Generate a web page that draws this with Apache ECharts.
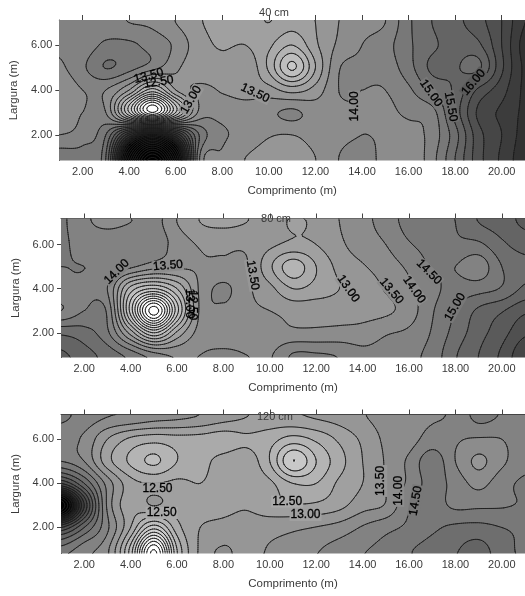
<!DOCTYPE html>
<html><head><meta charset="utf-8">
<style>html,body{margin:0;padding:0;background:#fff}#c{width:525px;height:596px;filter:blur(0.45px)}</style>
<script src="https://cdn.jsdelivr.net/npm/echarts@6/dist/echarts.min.js"></script>
</head><body><div id="c"></div>
<script>
// Length values along x (m): 1..21; rows are width y = 7 .. 1 (m)
const cm40_y7=[14.2,14.2,14.2,14.0,13.9,13.5,13.05,12.85,12.8,13.0,12.7,13.0,13.5,13.8,14.0,14.9,15.5,15.85,16.3,17.0,18.0];
const cm40_y6=[14.1,14.2,14.6,14.6,14.3,13.9,13.2,12.95,13.0,12.6,12.0,12.9,13.6,14.0,14.3,14.9,15.4,15.7,15.9,17.0,18.2];
const cm40_y5=[13.9,14.4,15.02,14.7,14.2,13.6,13.2,13.2,13.4,12.4,10.9,12.5,13.95,14.1,14.2,14.8,15.6,15.55,15.4,16.9,18.1];
const cm40_y4=[13.6,14.0,14.0,13.0,11.3,13.0,13.6,13.45,13.3,13.2,12.8,13.2,14.0,14.0,14.0,14.4,15.1,15.6,16.6,17.3,18.1];
const cm40_y3=[13.8,14.0,14.0,11.0,8.0,11.0,13.6,13.8,13.8,13.9,14.1,13.8,13.9,14.0,13.9,14.1,14.3,15.7,17.1,17.6,18.1];
const cm40_y2=[14.0,14.2,15.0,18.0,20.0,18.0,15.0,14.1,13.9,13.55,13.5,13.7,13.9,14.0,13.95,13.8,14.2,15.3,16.8,17.5,18.2];
const cm40_y1=[14.8,14.8,15.5,22,26,22,14.6,13.9,13.5,13.2,13.2,13.5,14.0,14.1,13.9,13.6,14.3,15.5,16.8,17.6,18.3];

const cm80_y7=[14.6,14.1,13.9,14.0,14.2,13.5,13.0,12.9,13.0,13.2,12.95,13.1,13.5,13.85,14.2,14.7,14.85,15.0,15.5,15.75,16.1];
const cm80_y6=[14.6,14.3,14.3,14.4,14.3,13.8,13.45,13.4,13.4,13.1,12.9,13.0,13.4,13.75,14.0,14.45,14.7,14.9,14.9,15.4,15.7];
const cm80_y5=[14.5,14.5,14.4,14.1,13.7,13.6,13.55,13.6,13.55,12.6,11.7,12.5,13.15,13.45,13.75,14.1,14.55,14.5,14.2,15.0,15.35];
const cm80_y4=[14.4,14.4,14.0,11.8,11.0,12.0,13.6,14.1,13.6,13.15,12.5,12.7,13.0,13.2,13.55,13.9,14.35,14.7,14.8,15.05,15.6];
const cm80_y3=[14.0,14.5,14.4,10.8,7.2,10.8,13.6,13.9,13.6,13.5,13.35,13.35,13.3,13.3,13.4,13.75,14.45,15.0,15.6,15.95,16.4];
const cm80_y2=[15.4,15.2,14.6,12.8,11.0,12.6,13.7,13.7,13.7,13.65,13.6,13.6,13.65,13.7,13.95,14.1,14.55,15.2,15.8,16.3,16.9];
const cm80_y1=[16.1,15.7,15.3,14.8,14.2,13.9,14.0,14.1,14.0,13.95,14.55,14.55,14.45,14.15,14.2,14.35,14.7,15.45,16.0,16.6,17.4];

const cm120_y7=[14.6,14.3,14.0,13.9,13.7,13.6,13.45,13.2,13.0,12.85,12.9,13.05,13.2,13.45,13.7,13.85,13.95,14.1,14.65,14.45,14.4];
const cm120_y6=[14.2,13.9,13.0,12.4,12.2,12.3,12.3,12.2,12.4,12.2,11.8,12.1,12.6,13.1,13.6,13.8,14.2,14.05,13.95,14.0,14.3];
const cm120_y5=[14.5,14.0,12.7,11.9,11.4,12.0,12.3,12.7,12.8,12.0,10.5,11.5,12.3,13.0,13.55,14.1,14.8,14.0,13.4,13.9,14.3];
const cm120_y4=[17,15.5,13.8,12.7,12.5,12.6,12.5,12.75,12.85,12.6,12.0,12.0,12.6,13.0,13.55,14.1,14.7,14.3,13.85,14.3,14.6];
const cm120_y3=[22,17.5,13.9,12.7,13.02,12.7,12.7,12.85,12.95,12.7,12.55,12.6,12.85,13.3,13.55,14.45,14.7,14.4,14.4,14.45,14.55];
const cm120_y2=[17,15.5,14.1,12.5,10.7,12.3,13.0,13.15,13.2,13.3,13.4,13.52,13.7,14.05,14.35,14.6,14.9,15.1,15.15,15.0,14.9];
const cm120_y1=[14.8,14.2,13.6,11.3,7.5,11.5,13.1,13.55,13.3,13.55,13.7,13.95,14.2,14.45,14.65,14.95,15.2,15.45,15.7,15.2,14.9];

// contour labels: [x, y, text, rotation in degrees, plain]
const labels40=[[4.84,4.63,'13.50',15,1],[5.27,4.35,'12.50',10,1],[6.66,3.56,'13.00',60],[9.41,3.86,'13.50',-25],[13.67,3.27,'14.00',90],[16.96,3.86,'15.00',-55],[17.81,3.26,'15.50',-80],[18.79,4.34,'16.00',50]];
const labels80=[[3.4,4.76,'14.00',45],[5.61,5.04,'13.50',5],[6.51,3.33,'13.00',-90,1],[6.64,3.25,'12.50',-90,1],[9.26,4.61,'13.50',-80],[13.38,4.0,'13.00',-55],[15.24,3.89,'13.50',-50],[16.22,3.95,'14.00',-55],[16.86,4.75,'14.50',-45],[17.99,3.17,'15.00',60]];
const labels120=[[5.16,3.78,'12.50',0],[5.34,2.65,'12.50',0],[10.75,3.18,'12.50',0],[11.54,2.56,'13.00',0],[14.8,4.11,'13.50',90],[15.54,3.66,'14.00',90],[16.29,3.21,'14.50',80]];

const panelTitles=['40 cm','80 cm','120 cm'];
const xTicks=[2,4,6,8,10,12,14,16,18,20];
const yTicks=[2,4,6];
const xAxisName='Comprimento (m)', yAxisName='Largura (m)';

const rows=[
 [cm40_y1,cm40_y2,cm40_y3,cm40_y4,cm40_y5,cm40_y6,cm40_y7],
 [cm80_y1,cm80_y2,cm80_y3,cm80_y4,cm80_y5,cm80_y6,cm80_y7],
 [cm120_y1,cm120_y2,cm120_y3,cm120_y4,cm120_y5,cm120_y6,cm120_y7]];
const labelSets=[labels40,labels80,labels120];
const frames=[
 {left:59,top:20,w:466,h:140.5,ymin:0.86,ymax:7.12,tx:269,ty:2},
 {left:61,top:218.5,w:465,h:139,ymin:0.88,ymax:7.18,tx:271,ty:208},
 {left:61,top:414.5,w:465,h:139,ymin:0.82,ymax:7.12,tx:270,ty:406}];

function cr(a,b,c,d,t){return 0.5*(2*b+(c-a)*t+(2*a-5*b+4*c-d)*t*t+(3*b-a-3*c+d)*t*t*t);}
function sampler(g){
  const ny=g.length,nx=g[0].length;
  const at=(j,i)=>g[Math.max(0,Math.min(ny-1,j))][Math.max(0,Math.min(nx-1,i))];
  return (x,y)=>{
    const u=x-1,v=y-1;
    const i=Math.max(0,Math.min(nx-2,Math.floor(u))),j=Math.max(0,Math.min(ny-2,Math.floor(v)));
    const tx=u-i,ty=v-j,c=[];
    for(let m=-1;m<=2;m++)c.push(cr(at(j+m,i-1),at(j+m,i),at(j+m,i+1),at(j+m,i+2),tx));
    return cr(c[0],c[1],c[2],c[3],ty);
  };
}
const STEP=0.5;
const bandGray=v=>{const b=Math.floor(v/STEP)*STEP+STEP/2;return Math.max(0,Math.min(255,Math.round(255-20*(b-8))));};
const css=g=>`rgb(${g},${g},${g})`;

const series=[],grid=[],xAxis=[],yAxis=[],title=[];
frames.forEach((f,p)=>{
  const S=sampler(rows[p]);
  const NX=233,NY=70,dx=20/NX,dy=(f.ymax-f.ymin)/NY;
  const fv=[];
  for(let j=0;j<=NY;j++){const r=[];for(let i=0;i<=NX;i++)r.push(S(1+i*dx,f.ymin+j*dy));fv.push(r);}
  const runs=[];
  for(let j=0;j<NY;j++){
    let start=0,cur=bandGray(S(1+dx/2,f.ymin+(j+.5)*dy));
    for(let i=1;i<=NX;i++){
      const g=i<NX?bandGray(S(1+(i+.5)*dx,f.ymin+(j+.5)*dy)):-1;
      if(g!==cur){runs.push([1+start*dx,1+i*dx,f.ymin+j*dy,f.ymin+(j+1)*dy,cur]);start=i;cur=g;}
    }
  }
  const segs=[];
  for(let L=6;L<=30;L+=STEP){
    for(let j=0;j<NY;j++)for(let i=0;i<NX;i++){
      const a=fv[j][i],b=fv[j][i+1],c=fv[j+1][i+1],d=fv[j+1][i];
      const X=1+i*dx,Y=f.ymin+j*dy,pts=[];
      if((a<L)!==(b<L))pts.push([X+dx*(L-a)/(b-a),Y]);
      if((b<L)!==(c<L))pts.push([X+dx,Y+dy*(L-b)/(c-b)]);
      if((d<L)!==(c<L))pts.push([X+dx*(L-d)/(c-d),Y+dy]);
      if((a<L)!==(d<L))pts.push([X,Y+dy*(L-a)/(d-a)]);
      if(pts.length>=2)segs.push([pts[0][0],pts[0][1],pts[1][0],pts[1][1]]);
      if(pts.length===4)segs.push([pts[2][0],pts[2][1],pts[3][0],pts[3][1]]);
    }
  }
  grid.push({left:f.left,top:f.top,width:f.w,height:f.h,containLabel:false});
  const ax=2*p, txt={fontFamily:'Liberation Sans',fontSize:11,color:'#3a3a3a'};
  xAxis.push({gridIndex:p,type:'value',min:1,max:21,position:'bottom',splitLine:{show:false},
    axisLine:{show:false},axisTick:{show:false},
    axisLabel:{...txt,margin:6,customValues:xTicks,formatter:v=>v.toFixed(2)},
    name:xAxisName,nameLocation:'middle',nameGap:24,nameTextStyle:{...txt,fontSize:11.5}});
  xAxis.push({gridIndex:p,type:'value',min:1,max:21,position:'top',splitLine:{show:false},
    axisLine:{show:true,onZero:false,lineStyle:{color:'#444',width:1}},
    axisTick:{show:true,length:5,customValues:xTicks,lineStyle:{color:'#444'}},
    axisLabel:{show:false}});
  yAxis.push({gridIndex:p,type:'value',min:f.ymin,max:f.ymax,position:'left',splitLine:{show:false},
    axisLine:{show:true,onZero:false,lineStyle:{color:'#444',width:1}},
    axisTick:{show:true,length:4,customValues:yTicks,lineStyle:{color:'#444'}},
    axisLabel:{...txt,margin:7,customValues:yTicks,formatter:v=>v.toFixed(2)},
    name:yAxisName,nameLocation:'middle',nameGap:34,nameTextStyle:{...txt,fontSize:11.5}});
  title.push({text:panelTitles[p],left:f.tx,top:f.ty,textAlign:'center',z:20,textStyle:{fontFamily:'Liberation Sans',fontSize:11,fontWeight:'normal',color:'#3a3a3a'}});
  const common={type:'custom',coordinateSystem:'cartesian2d',xAxisIndex:ax,yAxisIndex:p,animation:false,silent:true,progressive:0,clip:true};
  series.push({...common,z:1,data:runs,encode:{x:[0,1],y:[2,3]},renderItem:(ps,api)=>{
    const a=api.coord([api.value(0),api.value(2)]),b=api.coord([api.value(1),api.value(3)]);
    const x0=Math.round(a[0]),x1=Math.round(b[0]),y0=Math.round(b[1]),y1=Math.round(a[1]);
    return {type:'rect',shape:{x:x0,y:y0,width:x1-x0,height:y1-y0},style:{fill:css(api.value(4))}};
  }});
  series.push({...common,z:2,data:segs,encode:{x:[0,2],y:[1,3]},renderItem:(ps,api)=>{
    const a=api.coord([api.value(0),api.value(1)]),b=api.coord([api.value(2),api.value(3)]);
    return {type:'line',shape:{x1:a[0],y1:a[1],x2:b[0],y2:b[1]},style:{stroke:'#1c1c1c',lineWidth:0.9,lineCap:'round'}};
  }});
  const L=labelSets[p];
  series.push({...common,z:3,clip:false,data:L.map((l,i)=>[l[0],l[1],i]),encode:{x:0,y:1},renderItem:(ps,api)=>{
    const l=L[api.value(2)],q=api.coord([l[0],l[1]]);
    const style={text:l[2],x:0,y:0,align:'center',verticalAlign:'middle',fontFamily:'Liberation Sans',fontSize:12,fill:'#000',stroke:'#000',lineWidth:0.3};
    if(!l[4]){style.backgroundColor=css(bandGray(S(l[0],l[1])));style.padding=[0,1];}
    return {type:'text',x:q[0],y:q[1],rotation:l[3]*Math.PI/180,style};
  }});
});
const chart=echarts.init(document.getElementById('c'),null,{renderer:'canvas',width:525,height:596});
chart.setOption({animation:false,backgroundColor:'#fff',title,grid,xAxis,yAxis,series});
</script></body></html>
